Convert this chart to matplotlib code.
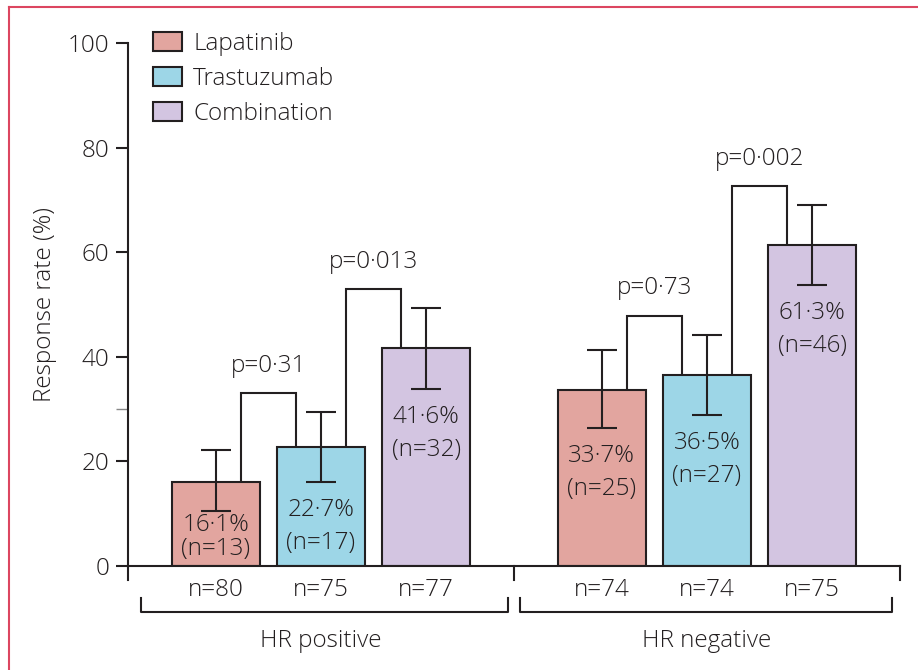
import numpy as np
import matplotlib
matplotlib.use("Agg")
import matplotlib.pyplot as plt
from matplotlib.lines import Line2D
from matplotlib.patches import Patch

plt.rcParams['font.family'] = ['Open Sans', 'DejaVu Sans']
plt.rcParams['font.weight'] = 'light'
plt.rcParams['axes.labelweight'] = 'light'

# Response rates by hormone-receptor status
treatments = ['Lapatinib', 'Trastuzumab', 'Combination']
groups = ['HR positive', 'HR negative']
rates = [[16.1, 22.7, 41.6], [33.7, 36.5, 61.3]]
ci_low = [[10.5, 16.1, 33.8], [26.4, 28.9, 53.7]]
ci_high = [[22.2, 29.4, 49.3], [41.3, 44.2, 69.0]]
responders = [[13, 17, 32], [25, 27, 46]]
group_n = [[80, 75, 77], [74, 74, 75]]
# comparisons within each group: (bar a, bar b, label)
p_values = [[(0, 1, 'p=0·31'), (1, 2, 'p=0·013')],
            [(0, 1, 'p=0·73'), (1, 2, 'p=0·002')]]

colors = ['#E2A59F', '#9DD6E7', '#D3C5E1']
ink = '#231F20'
fs = 17.5

fig = plt.figure(figsize=(9.18, 6.70), dpi=100)
ax = fig.add_axes([128 / 918, 104 / 670, 772 / 918, 523 / 670])

group_gap = 1.67
positions = [np.arange(3) + g * group_gap + g * 2 for g in range(2)]
width = 0.84
lw = 1.5

for g in range(2):
    xs = positions[g]
    for i in range(3):
        x = xs[i]
        r = rates[g][i]
        ax.bar(x, r, width=width, color=colors[i], edgecolor=ink, linewidth=lw, zorder=2)
        ax.errorbar(x, r, yerr=[[r - ci_low[g][i]], [ci_high[g][i] - r]],
                    fmt='none', ecolor=ink, elinewidth=lw, capsize=11, capthick=lw, zorder=3)
        # value label inside the bar, under the error bar
        yc = ci_low[g][i] - 8.5
        gap = 3.15
        if yc < 5.5:
            yc, gap = 5.5, 2.3
        ax.text(x, yc + gap, f'{r:.1f}%'.replace('.', '·'), ha='center', va='center',
                fontsize=fs, color=ink, zorder=4)
        ax.text(x, yc - gap, f'(n={responders[g][i]})', ha='center', va='center',
                fontsize=fs, color=ink, zorder=4)
        ax.text(x, -4.6, f'n={group_n[g][i]}', ha='center', va='center',
                fontsize=fs, color=ink, clip_on=False)

    # significance brackets
    for a, b, label in p_values[g]:
        top = max(ci_high[g][a], ci_high[g][b]) + 3.6
        xa, xb = xs[a] + 0.24, xs[b] - 0.24
        ax.plot([xa, xa, xb, xb], [rates[g][a], top, top, rates[g][b]],
                color=ink, lw=lw, zorder=1, solid_joinstyle='miter')
        ax.text((xa + xb) / 2, top + 5.3, label, ha='center', va='center',
                fontsize=fs, color=ink)

# x axis with group separators
x0 = positions[0][0] - 0.834
xmid = (positions[0][2] + positions[1][0]) / 2
x1 = positions[1][2] + 0.834
ax.set_xlim(x0, x1)
ax.set_ylim(0, 100)
ax.plot([x0, x1], [0, 0], color=ink, lw=lw, clip_on=False, zorder=5)
for xv in [x0, xmid, x1]:
    ax.plot([xv, xv], [0, -2.7], color=ink, lw=lw, clip_on=False)
ax.plot([x0, x0], [0, 100], color=ink, lw=lw, clip_on=False)

# group brackets below the axis
for g, (lo, hi) in enumerate([(x0, xmid), (xmid, x1)]):
    bl, br = lo + 0.12, hi - 0.06
    if g == 1:
        bl, br = lo + 0.06, hi - 0.08
    ax.plot([bl, bl, br, br], [-6.1, -8.8, -8.8, -6.1], color=ink, lw=lw, clip_on=False)
    ax.text(positions[g][1], -14.3, groups[g], ha='center', va='center',
            fontsize=fs, color=ink, clip_on=False)

for s in ax.spines.values():
    s.set_visible(False)
ax.set_xticks([])
ax.set_yticks([0, 20, 40, 60, 80, 100])
ax.set_yticks([30], minor=True)
ax.tick_params(axis='y', which='major', length=8.5, width=lw, color=ink,
               labelsize=fs, labelcolor=ink, pad=5)
ax.tick_params(axis='y', which='minor', length=8.5, width=1.0, color='#888888')
ax.set_ylabel('Response rate (%)', fontsize=fs, color=ink, labelpad=8)

handles = [Patch(facecolor=c, edgecolor=ink, linewidth=lw) for c in colors]
leg = fig.legend(handles, treatments, loc='upper left',
                 bbox_to_anchor=(153 / 918, 1 - 32 / 670), frameon=False,
                 fontsize=fs, handlelength=1.2, handleheight=0.78,
                 handletextpad=0.45, labelspacing=0.45, borderaxespad=0,
                 borderpad=0)
for t in leg.get_texts():
    t.set_color(ink)

# page frame
frame = '#DC4660'
fig.add_artist(Line2D([9 / 918, 1], [1 - 7 / 670] * 2, color=frame, lw=1.5))
fig.add_artist(Line2D([9 / 918] * 2, [0, 1 - 7 / 670], color=frame, lw=1.5))

fig.savefig('out.png', dpi=100)
